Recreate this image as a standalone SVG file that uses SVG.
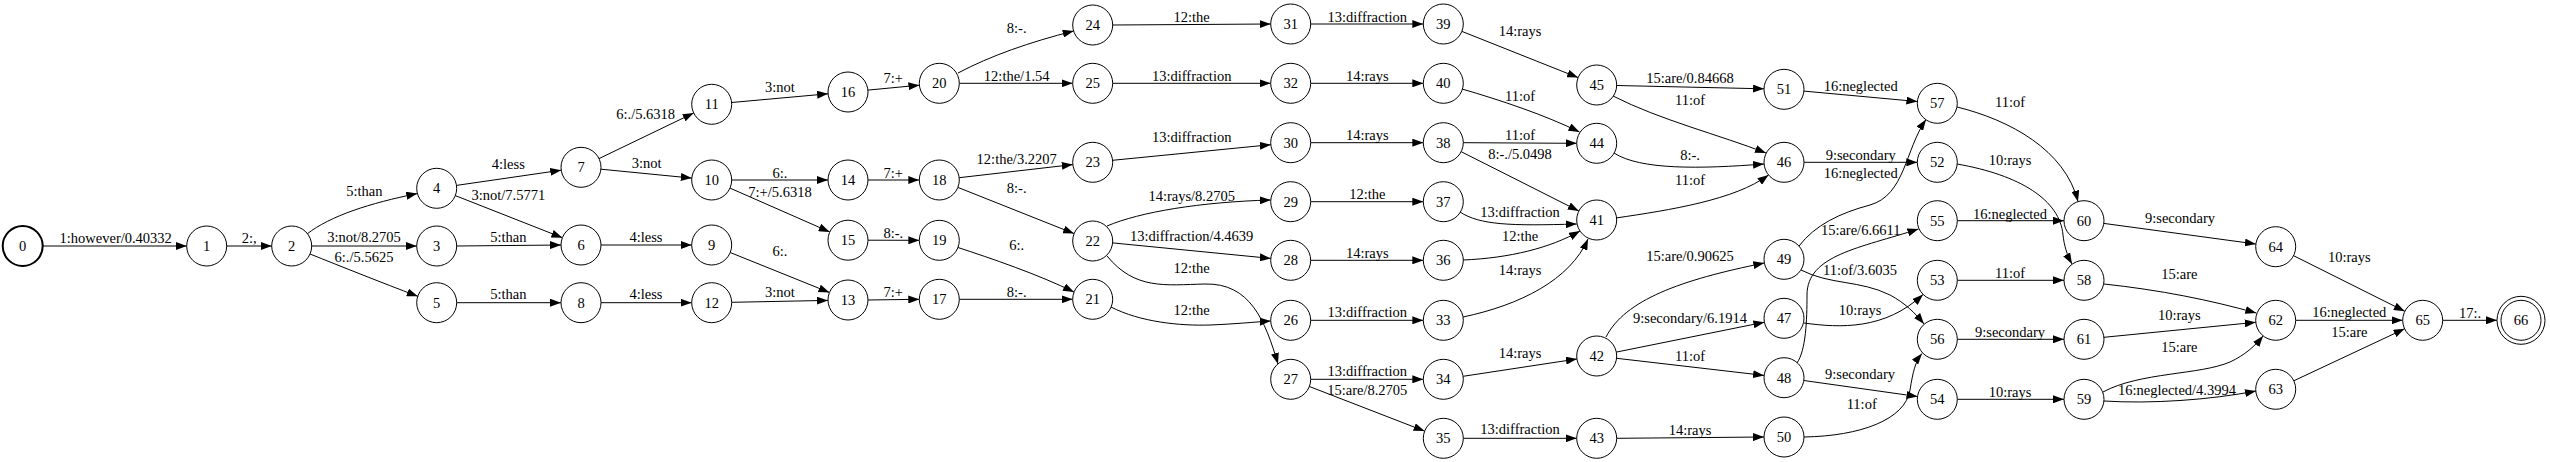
<svg xmlns="http://www.w3.org/2000/svg" width="2550" height="462" viewBox="0 0 2550 462">
<style>
.n{fill:#fff;stroke:#000;stroke-width:1}
.b{stroke-width:2}
text{font-family:"Liberation Serif","Times New Roman",serif;font-size:14.5px;text-anchor:middle;fill:#000}
.e{fill:none;stroke:#000;stroke-width:1;marker-end:url(#ah)}
</style>
<defs>
<marker id="ah" markerWidth="11" markerHeight="8" refX="11" refY="4" orient="auto" markerUnits="userSpaceOnUse"><path d="M0,0 L11,4 L0,8 z" fill="#000"/></marker>
</defs>
<rect width="2550" height="462" fill="#fff"/>
<g id="connectors">
<path class="e" d="M42.7,246 L186.7,246"/><text x="115.7" y="242.5">1:however/0.40332</text>
<path class="e" d="M226.7,246 L271.7,246"/><text x="249.3" y="242.5">2:,</text>
<path class="e" d="M307,234 C330,216 370,203 417.3,193.6"/><text x="364.3" y="196">5:than</text>
<path class="e" d="M311.7,246 L416.7,246"/><text x="364" y="242">3:not/8.2705</text>
<path class="e" d="M310,254 C340,266 380,282 417.8,296.3"/><text x="364" y="261.5">6:./5.5625</text>
<path class="e" d="M456.5,185.4 L561.2,170.2"/><text x="508.3" y="168.5">4:less</text>
<path class="e" d="M455.3,195.6 L562.4,237.7"/><text x="508.3" y="199.5">3:not/7.5771</text>
<path class="e" d="M456.7,246 L561,245"/><text x="508.3" y="241.5">5:than</text>
<path class="e" d="M456.7,302.7 L561,302.7"/><text x="508.3" y="298.5">5:than</text>
<path class="e" d="M599,158.6 L693.7,113"/><text x="645.7" y="118.5">6:./5.6318</text>
<path class="e" d="M600.9,169.2 L691.8,178.1"/><text x="646.7" y="167.5">3:not</text>
<path class="e" d="M601,245 L691.7,245"/><text x="646" y="241.5">4:less</text>
<path class="e" d="M601,302.7 L691.7,302.7"/><text x="646" y="298.5">4:less</text>
<path class="e" d="M731.6,102.5 L828.1,93.8"/><text x="780" y="91.5">3:not</text>
<path class="e" d="M731.7,180 L828,180"/><text x="780" y="177.5">6:.</text>
<path class="e" d="M730,188.1 L829.7,231.9"/><text x="780" y="196.5">7:+/5.6318</text>
<path class="e" d="M730.2,252.5 L829.5,292.5"/><text x="780" y="256">6:.</text>
<path class="e" d="M731.7,302.3 L828,300.4"/><text x="780" y="297">3:not</text>
<path class="e" d="M867.9,90.1 L919.4,85.2"/><text x="893.3" y="82.5">7:+</text>
<path class="e" d="M868,180 L919.3,180"/><text x="893.3" y="178">7:+</text>
<path class="e" d="M868,240.2 L919.3,240.3"/><text x="893.3" y="238">8:-.</text>
<path class="e" d="M868,300 L919.3,299.3"/><text x="893.3" y="296.5">7:+</text>
<path class="e" d="M958,73 C990,56 1030,42 1073.7,31"/><text x="1016.7" y="33">8:-.</text>
<path class="e" d="M959.3,83.3 L1072.7,83.3"/><text x="1016.7" y="81">12:the/1.54</text>
<path class="e" d="M959.2,177.7 L1072.8,164.6"/><text x="1016.7" y="164">12:the/3.2207</text>
<path class="e" d="M957.9,187.4 L1074.1,233.6"/><text x="1016.7" y="193">8:-.</text>
<path class="e" d="M958,247.5 C990,258 1040,275 1074,292.1"/><text x="1016.7" y="249.5">6:.</text>
<path class="e" d="M959.3,299.3 L1072.7,299.3"/><text x="1016.7" y="296.5">8:-.</text>
<path class="e" d="M1112.7,25 L1270.7,24"/><text x="1191.7" y="22">12:the</text>
<path class="e" d="M1112.7,83.3 L1270.7,83.3"/><text x="1191.7" y="81">13:diffraction</text>
<path class="e" d="M1112.6,160.3 L1270.8,144.7"/><text x="1191.7" y="142">13:diffraction</text>
<path class="e" d="M1107,226 C1140,212 1200,202 1270.8,200"/><text x="1191.7" y="201">14:rays/8.2705</text>
<path class="e" d="M1112.6,242.9 L1270.8,258.4"/><text x="1191.7" y="240.5">13:diffraction/4.4639</text>
<path class="e" d="M1107,256 C1135,290 1165,285 1205,284 C1250,283 1265,320 1278,364"/><text x="1191.7" y="273">12:the</text>
<path class="e" d="M1111,307 C1140,322 1180,326 1210,325 C1235,324 1255,322 1270.7,321"/><text x="1191.7" y="315">12:the</text>
<path class="e" d="M1310.7,24 L1423.3,24"/><text x="1367.3" y="22">13:diffraction</text>
<path class="e" d="M1310.7,83.3 L1423.3,83.3"/><text x="1367.3" y="80.5">14:rays</text>
<path class="e" d="M1310.7,142.7 L1423.3,142.7"/><text x="1367.3" y="139.5">14:rays</text>
<path class="e" d="M1310.7,201.7 L1423.3,201.7"/><text x="1367.3" y="198.5">12:the</text>
<path class="e" d="M1310.7,260.3 L1423.3,260.3"/><text x="1367.3" y="257.5">14:rays</text>
<path class="e" d="M1310.7,320.3 L1423.3,320.3"/><text x="1367.3" y="316.5">13:diffraction</text>
<path class="e" d="M1310.7,379.3 L1423.3,379.3"/><text x="1367.3" y="375.5">13:diffraction</text>
<path class="e" d="M1309.4,386.5 L1424.6,431.1"/><text x="1367.3" y="394.5">15:are/8.2705</text>
<path class="e" d="M1461.9,31.4 L1578.1,77.6"/><text x="1520" y="35.5">14:rays</text>
<path class="e" d="M1462,89 C1500,100 1545,115 1579.5,132"/><text x="1520" y="100.5">11:of</text>
<path class="e" d="M1463.3,142.7 L1576.7,143.3"/><text x="1520" y="139.5">11:of</text>
<path class="e" d="M1461.2,151.7 L1578.8,211"/><text x="1520" y="158.5">8:-./5.0498</text>
<path class="e" d="M1460,212 C1480,225 1510,226 1576.7,224"/><text x="1520" y="216.5">13:diffraction</text>
<path class="e" d="M1463,260 C1510,258 1550,248 1580,231"/><text x="1520" y="240.5">12:the</text>
<path class="e" d="M1463,317 C1520,305 1570,280 1588,239"/><text x="1520" y="274.5">14:rays</text>
<path class="e" d="M1463.1,376.3 L1576.9,359"/><text x="1520" y="358">14:rays</text>
<path class="e" d="M1463.3,438.3 L1576.7,438.3"/><text x="1520" y="434">13:diffraction</text>
<path class="e" d="M1616.7,85.5 L1764,88.8"/><text x="1690" y="82.5">15:are/0.84668</text>
<path class="e" d="M1613,96 C1660,120 1720,135 1766,153"/><text x="1690" y="104.5">11:of</text>
<path class="e" d="M1614,153 C1640,170 1700,169 1764,164"/><text x="1690" y="159.5">8:-.</text>
<path class="e" d="M1616,218 C1670,210 1735,200 1768.5,175"/><text x="1690" y="184.5">11:of</text>
<path class="e" d="M1606,337 C1625,300 1680,280 1764.3,263"/><text x="1690" y="260.5">15:are/0.90625</text>
<path class="e" d="M1616.3,352.1 L1764.4,322.2"/><text x="1690" y="322.5">9:secondary/6.1914</text>
<path class="e" d="M1616.6,358.3 L1764.1,375.4"/><text x="1690" y="361">11:of</text>
<path class="e" d="M1616.7,438.3 L1764,437"/><text x="1690" y="434.5">14:rays</text>
<path class="e" d="M1803.9,91.1 L1917.4,101.5"/><text x="1860.7" y="90.5">16:neglected</text>
<path class="e" d="M1804,162.3 L1917.3,162.3"/><text x="1860.7" y="159.5">9:secondary</text>
<path class="e" d="M1799,246 C1815,225 1840,213 1870,205 C1905,195 1905,150 1926,119.5"/><text x="1860.7" y="177.5">16:neglected</text>
<path class="e" d="M1797,363 C1806,350 1807,320 1807,295 C1807,255 1860,248 1918.5,229"/><text x="1860.7" y="235">15:are/6.6611</text>
<path class="e" d="M1801,270 C1830,285 1860,280 1890,295 C1905,303 1915,313 1924,324"/><text x="1860" y="275">11:of/3.6035</text>
<path class="e" d="M1804,323 C1840,328 1885,330 1923,294.5"/><text x="1860" y="314.5">10:rays</text>
<path class="e" d="M1803.8,380.5 L1917.5,396.5"/><text x="1860" y="378.5">9:secondary</text>
<path class="e" d="M1804,437 C1860,436 1905,420 1910,390 C1913,372 1915,362 1922,353.5"/><text x="1861.7" y="408.5">11:of</text>
<path class="e" d="M1957,107 C2010,120 2065,150 2078,201.5"/><text x="2010" y="107">11:of</text>
<path class="e" d="M1957,164 C2020,175 2060,200 2063,235 C2064,245 2067,255 2072,264"/><text x="2010" y="164.5">10:rays</text>
<path class="e" d="M1957.3,220.7 L2064,220.7"/><text x="2010" y="218.5">16:neglected</text>
<path class="e" d="M1957.3,280.3 L2064,280.3"/><text x="2010" y="278">11:of</text>
<path class="e" d="M1957.3,339.3 L2064,339.3"/><text x="2010" y="336.5">9:secondary</text>
<path class="e" d="M1957.3,399.3 L2064,399.3"/><text x="2010" y="396.5">10:rays</text>
<path class="e" d="M2103.8,223.4 L2255.9,244"/><text x="2180" y="222.5">9:secondary</text>
<path class="e" d="M2104,284 C2160,290 2210,300 2256.3,313"/><text x="2179.3" y="278.5">15:are</text>
<path class="e" d="M2103.9,337.3 L2255.8,322.3"/><text x="2179.3" y="320">10:rays</text>
<path class="e" d="M2103,392 C2140,372 2200,375 2230,362 C2245,355 2255,346 2263,336"/><text x="2179.3" y="351.5">15:are</text>
<path class="e" d="M2104,401 C2150,404 2210,400 2256,391"/><text x="2177" y="394.5">16:neglected/4.3994</text>
<path class="e" d="M2293.6,255.7 L2404.8,311.3"/><text x="2349.3" y="261.5">10:rays</text>
<path class="e" d="M2295.7,320.3 L2402.7,320.3"/><text x="2349.3" y="317">16:neglected</text>
<path class="e" d="M2293.8,380.8 L2404.6,328.8"/><text x="2349.3" y="336.5">15:are</text>
<path class="e" d="M2442.7,320.3 L2497,320.3"/><text x="2470" y="318">17:.</text>
</g>
<g id="n0"><circle class="n b" cx="22.7" cy="246" r="20"/><text x="22.7" y="251">0</text></g>
<g id="n1"><circle class="n" cx="206.7" cy="246" r="20"/><text x="206.7" y="251">1</text></g>
<g id="n2"><circle class="n" cx="291.7" cy="246" r="20"/><text x="291.7" y="251">2</text></g>
<g id="n3"><circle class="n" cx="436.7" cy="246" r="20"/><text x="436.7" y="251">3</text></g>
<g id="n4"><circle class="n" cx="436.7" cy="188.3" r="20"/><text x="436.7" y="193.3">4</text></g>
<g id="n5"><circle class="n" cx="436.7" cy="302.7" r="20"/><text x="436.7" y="307.7">5</text></g>
<g id="n6"><circle class="n" cx="581" cy="245" r="20"/><text x="581" y="250">6</text></g>
<g id="n7"><circle class="n" cx="581" cy="167.3" r="20"/><text x="581" y="172.3">7</text></g>
<g id="n8"><circle class="n" cx="581" cy="302.7" r="20"/><text x="581" y="307.7">8</text></g>
<g id="n9"><circle class="n" cx="711.7" cy="245" r="20"/><text x="711.7" y="250">9</text></g>
<g id="n10"><circle class="n" cx="711.7" cy="180" r="20"/><text x="711.7" y="185">10</text></g>
<g id="n11"><circle class="n" cx="711.7" cy="104.3" r="20"/><text x="711.7" y="109.3">11</text></g>
<g id="n12"><circle class="n" cx="711.7" cy="302.7" r="20"/><text x="711.7" y="307.7">12</text></g>
<g id="n13"><circle class="n" cx="848" cy="300" r="20"/><text x="848" y="305">13</text></g>
<g id="n14"><circle class="n" cx="848" cy="180" r="20"/><text x="848" y="185">14</text></g>
<g id="n15"><circle class="n" cx="848" cy="240.2" r="20"/><text x="848" y="245.2">15</text></g>
<g id="n16"><circle class="n" cx="848" cy="92" r="20"/><text x="848" y="97">16</text></g>
<g id="n17"><circle class="n" cx="939.3" cy="299.3" r="20"/><text x="939.3" y="304.3">17</text></g>
<g id="n18"><circle class="n" cx="939.3" cy="180" r="20"/><text x="939.3" y="185">18</text></g>
<g id="n19"><circle class="n" cx="939.3" cy="240.3" r="20"/><text x="939.3" y="245.3">19</text></g>
<g id="n20"><circle class="n" cx="939.3" cy="83.3" r="20"/><text x="939.3" y="88.3">20</text></g>
<g id="n21"><circle class="n" cx="1092.7" cy="299.3" r="20"/><text x="1092.7" y="304.3">21</text></g>
<g id="n22"><circle class="n" cx="1092.7" cy="241" r="20"/><text x="1092.7" y="246">22</text></g>
<g id="n23"><circle class="n" cx="1092.7" cy="162.3" r="20"/><text x="1092.7" y="167.3">23</text></g>
<g id="n24"><circle class="n" cx="1092.7" cy="25" r="20"/><text x="1092.7" y="30">24</text></g>
<g id="n25"><circle class="n" cx="1092.7" cy="83.3" r="20"/><text x="1092.7" y="88.3">25</text></g>
<g id="n26"><circle class="n" cx="1290.7" cy="320.3" r="20"/><text x="1290.7" y="325.3">26</text></g>
<g id="n27"><circle class="n" cx="1290.7" cy="379.3" r="20"/><text x="1290.7" y="384.3">27</text></g>
<g id="n28"><circle class="n" cx="1290.7" cy="260.3" r="20"/><text x="1290.7" y="265.3">28</text></g>
<g id="n29"><circle class="n" cx="1290.7" cy="201.7" r="20"/><text x="1290.7" y="206.7">29</text></g>
<g id="n30"><circle class="n" cx="1290.7" cy="142.7" r="20"/><text x="1290.7" y="147.7">30</text></g>
<g id="n31"><circle class="n" cx="1290.7" cy="24" r="20"/><text x="1290.7" y="29">31</text></g>
<g id="n32"><circle class="n" cx="1290.7" cy="83.3" r="20"/><text x="1290.7" y="88.3">32</text></g>
<g id="n33"><circle class="n" cx="1443.3" cy="320.3" r="20"/><text x="1443.3" y="325.3">33</text></g>
<g id="n34"><circle class="n" cx="1443.3" cy="379.3" r="20"/><text x="1443.3" y="384.3">34</text></g>
<g id="n35"><circle class="n" cx="1443.3" cy="438.3" r="20"/><text x="1443.3" y="443.3">35</text></g>
<g id="n36"><circle class="n" cx="1443.3" cy="260.3" r="20"/><text x="1443.3" y="265.3">36</text></g>
<g id="n37"><circle class="n" cx="1443.3" cy="201.7" r="20"/><text x="1443.3" y="206.7">37</text></g>
<g id="n38"><circle class="n" cx="1443.3" cy="142.7" r="20"/><text x="1443.3" y="147.7">38</text></g>
<g id="n39"><circle class="n" cx="1443.3" cy="24" r="20"/><text x="1443.3" y="29">39</text></g>
<g id="n40"><circle class="n" cx="1443.3" cy="83.3" r="20"/><text x="1443.3" y="88.3">40</text></g>
<g id="n41"><circle class="n" cx="1596.7" cy="220" r="20"/><text x="1596.7" y="225">41</text></g>
<g id="n42"><circle class="n" cx="1596.7" cy="356" r="20"/><text x="1596.7" y="361">42</text></g>
<g id="n43"><circle class="n" cx="1596.7" cy="438.3" r="20"/><text x="1596.7" y="443.3">43</text></g>
<g id="n44"><circle class="n" cx="1596.7" cy="143.3" r="20"/><text x="1596.7" y="148.3">44</text></g>
<g id="n45"><circle class="n" cx="1596.7" cy="85" r="20"/><text x="1596.7" y="90">45</text></g>
<g id="n46"><circle class="n" cx="1784" cy="162.3" r="20"/><text x="1784" y="167.3">46</text></g>
<g id="n47"><circle class="n" cx="1784" cy="318.3" r="20"/><text x="1784" y="323.3">47</text></g>
<g id="n48"><circle class="n" cx="1784" cy="377.7" r="20"/><text x="1784" y="382.7">48</text></g>
<g id="n49"><circle class="n" cx="1784" cy="259.3" r="20"/><text x="1784" y="264.3">49</text></g>
<g id="n50"><circle class="n" cx="1784" cy="437" r="20"/><text x="1784" y="442">50</text></g>
<g id="n51"><circle class="n" cx="1784" cy="89.3" r="20"/><text x="1784" y="94.3">51</text></g>
<g id="n52"><circle class="n" cx="1937.3" cy="162.3" r="20"/><text x="1937.3" y="167.3">52</text></g>
<g id="n53"><circle class="n" cx="1937.3" cy="280.3" r="20"/><text x="1937.3" y="285.3">53</text></g>
<g id="n54"><circle class="n" cx="1937.3" cy="399.3" r="20"/><text x="1937.3" y="404.3">54</text></g>
<g id="n55"><circle class="n" cx="1937.3" cy="220.7" r="20"/><text x="1937.3" y="225.7">55</text></g>
<g id="n56"><circle class="n" cx="1937.3" cy="339.3" r="20"/><text x="1937.3" y="344.3">56</text></g>
<g id="n57"><circle class="n" cx="1937.3" cy="103.3" r="20"/><text x="1937.3" y="108.3">57</text></g>
<g id="n58"><circle class="n" cx="2084" cy="280.3" r="20"/><text x="2084" y="285.3">58</text></g>
<g id="n59"><circle class="n" cx="2084" cy="399.3" r="20"/><text x="2084" y="404.3">59</text></g>
<g id="n60"><circle class="n" cx="2084" cy="220.7" r="20"/><text x="2084" y="225.7">60</text></g>
<g id="n61"><circle class="n" cx="2084" cy="339.3" r="20"/><text x="2084" y="344.3">61</text></g>
<g id="n62"><circle class="n" cx="2275.7" cy="320.3" r="20"/><text x="2275.7" y="325.3">62</text></g>
<g id="n63"><circle class="n" cx="2275.7" cy="389.3" r="20"/><text x="2275.7" y="394.3">63</text></g>
<g id="n64"><circle class="n" cx="2275.7" cy="246.7" r="20"/><text x="2275.7" y="251.7">64</text></g>
<g id="n65"><circle class="n" cx="2422.7" cy="320.3" r="20"/><text x="2422.7" y="325.3">65</text></g>
<g id="n66"><circle class="n" cx="2521" cy="320.3" r="24"/><circle class="n" cx="2521" cy="320.3" r="20"/><text x="2521" y="325.3">66</text></g>
</svg>
